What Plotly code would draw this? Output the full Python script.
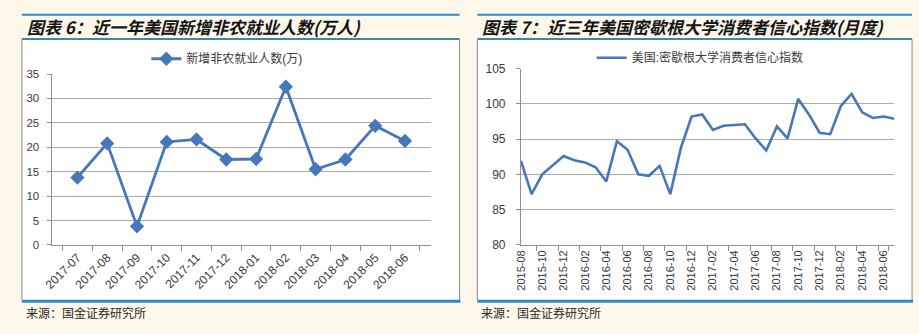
import plotly.graph_objects as go

W, H = 919, 334

# 近一年美国新增非农就业人数（万人）
jobs_months = ["2017-07", "2017-08", "2017-09", "2017-10", "2017-11", "2017-12",
               "2018-01", "2018-02", "2018-03", "2018-04", "2018-05", "2018-06"]
jobs_values = [13.8, 20.8, 3.8, 21.1, 21.6, 17.5, 17.6, 32.4, 15.5, 17.5, 24.4, 21.3]

# 近三年美国密歇根大学消费者信心指数（月度）
sent_months = ["2015-08", "2015-09", "2015-10", "2015-11", "2015-12",
               "2016-01", "2016-02", "2016-03", "2016-04", "2016-05", "2016-06",
               "2016-07", "2016-08", "2016-09", "2016-10", "2016-11", "2016-12",
               "2017-01", "2017-02", "2017-03", "2017-04", "2017-05", "2017-06",
               "2017-07", "2017-08", "2017-09", "2017-10", "2017-11", "2017-12",
               "2018-01", "2018-02", "2018-03", "2018-04", "2018-05", "2018-06",
               "2018-07"]
sent_values = [91.9, 87.2, 90.0, 91.3, 92.6,
               92.0, 91.7, 91.0, 89.0, 94.7, 93.5,
               90.0, 89.8, 91.2, 87.2, 93.8, 98.2,
               98.5, 96.3, 96.9, 97.0, 97.1, 95.1,
               93.4, 96.8, 95.1, 100.7, 98.5, 95.9,
               95.7, 99.7, 101.4, 98.8, 98.0, 98.2,
               97.9]
sent_ticks = sent_months[::2]

titles = ["图表 6：近一年美国新增非农就业人数(万人)",
          "图表 7：近三年美国密歇根大学消费者信心指数(月度)"]
source_text = "来源：国金证券研究所"

FONT = "Liberation Sans, Arial, Noto Sans CJK SC, sans-serif"
CJK = "Noto Sans CJK SC, sans-serif"
LINE = "#4677B8"
BLUE = "#2F8BC4"
GRID = "#ABABAB"
AXIS = "#8E8E8E"
TXT = "#3A3A3A"
BG = "#FDF8EA"


def px(x):
    return x / W


def py(y):
    return 1 - y / H


fig = go.Figure()

fig.add_trace(go.Scatter(
    x=jobs_months, y=jobs_values, mode="lines+markers",
    name="新增非农就业人数(万)", showlegend=True,
    line=dict(color=LINE, width=2.8),
    marker=dict(symbol="diamond", size=11, color=LINE),
    xaxis="x", yaxis="y", legend="legend",
))

fig.add_trace(go.Scatter(
    x=sent_months, y=sent_values, mode="lines",
    name="美国:密歇根大学消费者信心指数", showlegend=True,
    line=dict(color=LINE, width=2.6),
    xaxis="x2", yaxis="y2", legend="legend2",
))

shapes = []
panels = [(13, 455), (473, 912)]
for x0, x1 in panels:
    # white chart box with grey side borders
    shapes.append(dict(type="rect", xref="paper", yref="paper", layer="below",
                       x0=px(x0), x1=px(x1), y0=py(306), y1=py(34),
                       fillcolor="white", line=dict(width=0)))
    for xs in (x0, x1):
        shapes.append(dict(type="line", xref="paper", yref="paper", layer="below",
                           x0=px(xs), x1=px(xs), y0=py(306), y1=py(34),
                           line=dict(color="#9A9A9A", width=1.2)))
    # blue rules above and below the title, and under the chart
    shapes.append(dict(type="line", xref="paper", yref="paper",
                       x0=px(x0), x1=px(x1), y0=py(8), y1=py(8),
                       line=dict(color=BLUE, width=2)))
    shapes.append(dict(type="line", xref="paper", yref="paper",
                       x0=px(x0), x1=px(x1), y0=py(33.5), y1=py(33.5),
                       line=dict(color="#3D86B4", width=2)))
    shapes.append(dict(type="line", xref="paper", yref="paper",
                       x0=px(x0), x1=px(x1 + 1), y0=py(307), y1=py(307),
                       line=dict(color=BLUE, width=3)))

annotations = []
for (x0, _), t in zip(panels, titles):
    annotations.append(dict(xref="paper", yref="paper", x=px(x0 + 3), y=py(20.5),
                            xanchor="left", yanchor="middle", showarrow=False,
                            text="<b><i>" + t + "</i></b>",
                            font=dict(family=CJK, size=17, color="#141414")))
    annotations.append(dict(xref="paper", yref="paper", x=px(x0 + 2), y=py(319),
                            xanchor="left", yanchor="middle", showarrow=False,
                            text=source_text,
                            font=dict(family=CJK, size=12, color="#2A2A2A")))

axis_common = dict(showline=True, linecolor=AXIS, linewidth=1,
                   ticks="outside", tickcolor=AXIS, zeroline=False)

fig.update_layout(
    width=W, height=H,
    margin=dict(l=0, r=0, t=0, b=0),
    paper_bgcolor=BG,
    plot_bgcolor="rgba(0,0,0,0)",
    showlegend=True,
    shapes=shapes,
    annotations=annotations,
    font=dict(family=FONT, color=TXT),
    xaxis=dict(domain=[px(43), px(426)], anchor="y", type="category",
               categoryorder="array", categoryarray=jobs_months,
               tickson="boundaries", ticklen=5, tickangle=-45,
               tickfont=dict(family=FONT, size=12, color=TXT),
               showgrid=False, **axis_common),
    yaxis=dict(domain=[py(248.3), py(70)], anchor="x", range=[0, 35],
               dtick=5, showgrid=True, gridcolor=GRID, gridwidth=1,
               ticklen=4, ticklabelstandoff=5,
               tickfont=dict(family=FONT, size=11.5, color=TXT),
               **axis_common),
    xaxis2=dict(domain=[px(517), px(894)], anchor="y2", type="category",
                categoryorder="array", categoryarray=sent_months,
                tickmode="array", tickvals=sent_ticks, ticktext=sent_ticks,
                tickson="boundaries", ticklen=5, tickangle=-90,
                tickfont=dict(family=FONT, size=11, color=TXT),
                showgrid=False, **axis_common),
    yaxis2=dict(domain=[py(248.3), py(64.3)], anchor="x2", range=[80, 105],
                dtick=5, showgrid=True, gridcolor=GRID, gridwidth=1,
                ticklen=4, ticklabelstandoff=8,
                tickfont=dict(family=FONT, size=12, color=TXT),
                **axis_common),
    legend=dict(visible=True, x=px(220), y=py(54), xanchor="center",
                yanchor="middle", orientation="h", bgcolor="rgba(0,0,0,0)",
                font=dict(family=FONT, size=12, color=TXT)),
    legend2=dict(visible=True, x=px(698), y=py(53), xanchor="center",
                 yanchor="middle", orientation="h", bgcolor="rgba(0,0,0,0)",
                 font=dict(family=FONT, size=12, color=TXT)),
)

fig.write_html("out.html")
